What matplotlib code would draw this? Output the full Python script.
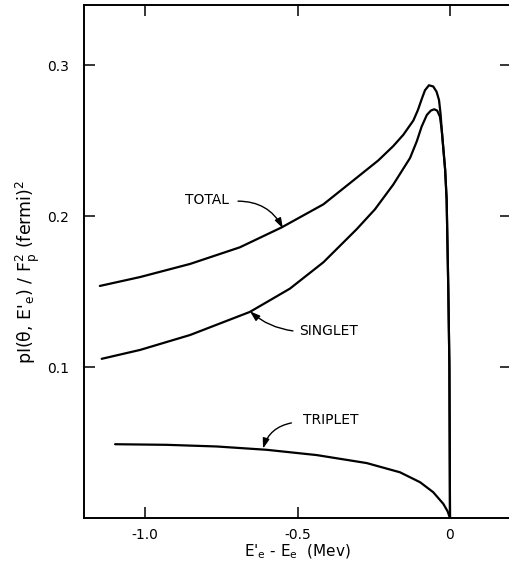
import matplotlib
matplotlib.use("Agg")
import matplotlib.pyplot as plt

plt.rcParams['font.family'] = 'DejaVu Sans'
plt.rcParams['mathtext.fontset'] = 'dejavusans'
plt.rcParams['mathtext.default'] = 'regular'

# curves, x = E'e - Ee (Mev)
total_x = [-1.148, -1.016, -0.852, -0.689, -0.552, -0.415, -0.306, -0.235, -0.186,
           -0.153, -0.120, -0.105, -0.093, -0.082, -0.069, -0.055, -0.044, -0.036,
           -0.031, -0.027, -0.016, -0.011, -0.0056, -0.002, -0.001, 0.0]
total_y = [0.1538, 0.1597, 0.1684, 0.1794, 0.1926, 0.2079, 0.2255, 0.237, 0.2465,
           0.2540, 0.2635, 0.2705, 0.2775, 0.2835, 0.2868, 0.2860, 0.2825, 0.277,
           0.268, 0.257, 0.231, 0.211, 0.152, 0.101, 0.053, 0.0]

singlet_x = [-1.142, -1.016, -0.852, -0.656, -0.525, -0.415, -0.306, -0.246, -0.186,
             -0.131, -0.109, -0.093, -0.076, -0.063, -0.052, -0.042, -0.033, -0.027,
             -0.016, -0.011, -0.0056, -0.002, -0.001, 0.0]
singlet_y = [0.1055, 0.1114, 0.1213, 0.1366, 0.152, 0.1695, 0.1914, 0.2046, 0.221,
             0.2386, 0.2496, 0.2594, 0.2671, 0.270, 0.2709, 0.270, 0.266, 0.257,
             0.231, 0.211, 0.152, 0.101, 0.053, 0.0]

triplet_x = [-1.098, -0.929, -0.765, -0.601, -0.437, -0.273, -0.164, -0.098,
             -0.055, -0.022, -0.008, 0.0]
triplet_y = [0.0489, 0.0485, 0.0474, 0.0452, 0.0417, 0.0364, 0.0303, 0.0237,
             0.0171, 0.0094, 0.0045, 0.0]

xticks = [-1.0, -0.5, 0.0]
xtick_labels = ['-1.0', '-0.5', '0']
yticks = [0.1, 0.2, 0.3]
ytick_labels = ['0.1', '0.2', '0.3']

fig = plt.figure(figsize=(5.09, 5.65), dpi=100)
ax = fig.add_axes([84/509, 1 - 518/565, 427/509, 513/565])

for xs, ys in [(total_x, total_y), (singlet_x, singlet_y), (triplet_x, triplet_y)]:
    ax.plot(xs, ys, color='black', lw=1.6, solid_joinstyle='round', solid_capstyle='round')

ax.set_xlim(-1.2, 0.2)
ax.set_ylim(0, 0.34)

ax.set_xticks(xticks)
ax.set_xticklabels(xtick_labels, fontsize=10)
ax.set_yticks(yticks)
ax.set_yticklabels(ytick_labels, fontsize=10)
ax.tick_params(direction='in', top=True, right=True, length=8, width=1.1)
ax.tick_params(axis='x', pad=7)
ax.tick_params(axis='y', pad=11)

for s in ['left', 'bottom', 'top']:
    ax.spines[s].set_linewidth(1.4)
ax.spines['right'].set_visible(False)

# curve labels with arrows
arrow = dict(arrowstyle='-|>,head_length=0.6,head_width=0.2', color='black', lw=1.0,
             mutation_scale=10, shrinkA=0, shrinkB=0)

ax.text(-0.797, 0.211, 'TOTAL', fontsize=10, ha='center', va='center')
ax.annotate('', xy=(-0.548, 0.192), xytext=(-0.695, 0.210),
            arrowprops=dict(arrow, connectionstyle='arc3,rad=-0.3'))

ax.text(-0.397, 0.124, 'SINGLET', fontsize=10, ha='center', va='center')
ax.annotate('', xy=(-0.656, 0.137), xytext=(-0.515, 0.124),
            arrowprops=dict(arrow, connectionstyle='arc3,rad=-0.15'))

ax.text(-0.39, 0.065, 'TRIPLET', fontsize=10, ha='center', va='center')
ax.annotate('', xy=(-0.613, 0.046), xytext=(-0.52, 0.063),
            arrowprops=dict(arrow, connectionstyle='arc3,rad=0.3'))

fig.text(297/509, 1 - 552/565, r"E'$_e$ - E$_e$  (Mev)", fontsize=11, ha='center', va='center')
fig.text(28/509, 1 - 272/565, r"pI($\theta$, E'$_e$) / F$^2_p$ (fermi)$^2$",
         rotation=90, fontsize=12.5, ha='center', va='center')

fig.savefig('out.png', dpi=100)
